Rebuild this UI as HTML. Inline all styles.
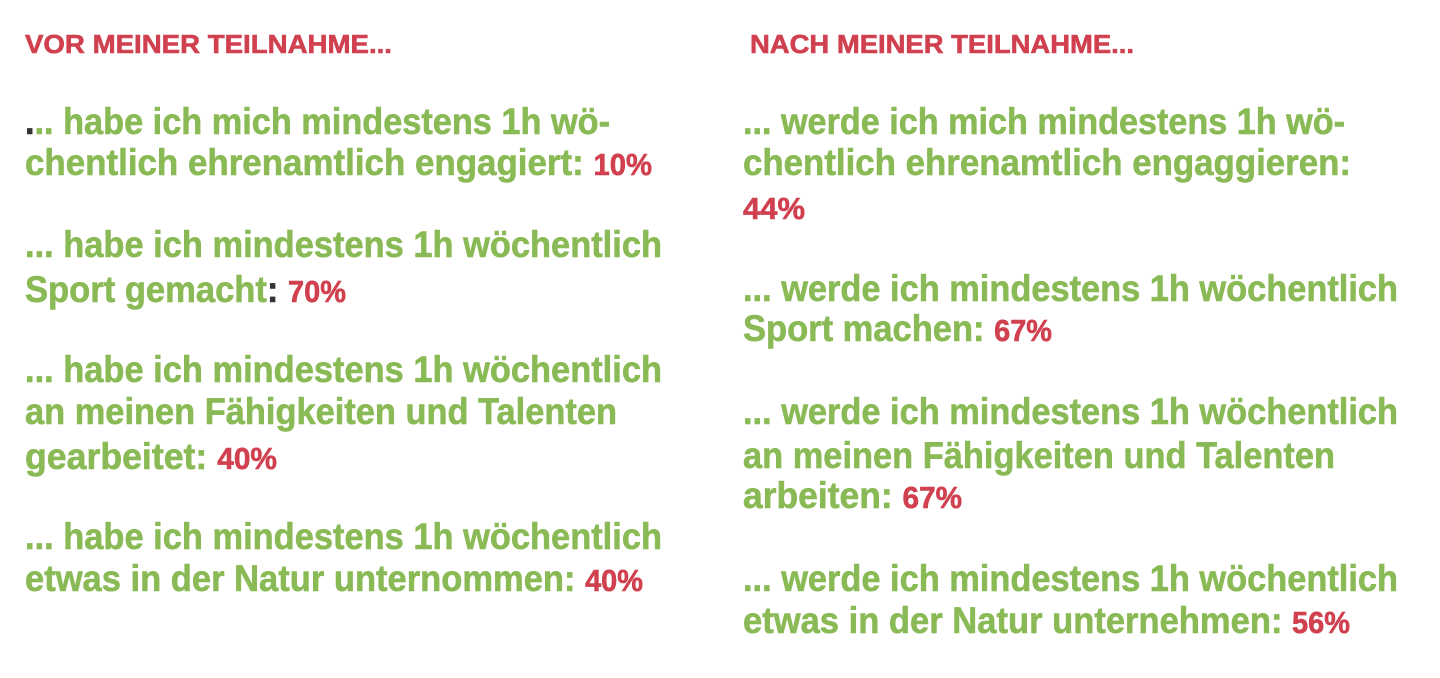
<!DOCTYPE html>
<html><head><meta charset="utf-8"><style>
html,body{margin:0;padding:0;background:#fff;}
svg{display:block}
text{font-family:"Liberation Sans",sans-serif;font-weight:bold;fill:#8aba55;stroke:#8aba55;stroke-width:0.6px;font-size:37px}
.t{fill:#d0404f;stroke:#d0404f;font-size:26px}
.p{fill:#d0404f;stroke:#d0404f;font-size:31px}
.d{fill:#333;stroke:#333}
</style></head><body>
<svg width="1440" height="678" xmlns="http://www.w3.org/2000/svg">
<text class="t" x="25" y="53" textLength="367" lengthAdjust="spacingAndGlyphs">VOR MEINER TEILNAHME...</text>
<text class="t" x="750" y="53" textLength="384" lengthAdjust="spacingAndGlyphs">NACH MEINER TEILNAHME...</text>

<text x="25" y="134" textLength="585" lengthAdjust="spacingAndGlyphs"><tspan class="d">.</tspan>.. habe ich mich mindestens 1h wö-</text>
<text x="25" y="175" textLength="627" lengthAdjust="spacingAndGlyphs">chentlich ehrenamtlich engagiert: <tspan class="p">10%</tspan></text>
<text x="25" y="257" textLength="637" lengthAdjust="spacingAndGlyphs">... habe ich mindestens 1h wöchentlich</text>
<text x="25" y="302" textLength="321" lengthAdjust="spacingAndGlyphs">Sport gemacht<tspan class="d">:</tspan> <tspan class="p">70%</tspan></text>
<text x="25" y="382" textLength="637" lengthAdjust="spacingAndGlyphs">... habe ich mindestens 1h wöchentlich</text>
<text x="25" y="424" textLength="592" lengthAdjust="spacingAndGlyphs">an meinen Fähigkeiten und Talenten</text>
<text x="25" y="469" textLength="252" lengthAdjust="spacingAndGlyphs">gearbeitet: <tspan class="p">40%</tspan></text>
<text x="25" y="549" textLength="637" lengthAdjust="spacingAndGlyphs">... habe ich mindestens 1h wöchentlich</text>
<text x="25" y="591" textLength="618" lengthAdjust="spacingAndGlyphs">etwas in der Natur unternommen: <tspan class="p">40%</tspan></text>

<text x="743" y="134" textLength="602" lengthAdjust="spacingAndGlyphs">... werde ich mich mindestens 1h wö-</text>
<text x="743" y="175" textLength="608" lengthAdjust="spacingAndGlyphs">chentlich ehrenamtlich engaggieren:</text>
<text class="p" x="743" y="219" textLength="62" lengthAdjust="spacingAndGlyphs">44%</text>
<text x="743" y="301" textLength="655" lengthAdjust="spacingAndGlyphs">... werde ich mindestens 1h wöchentlich</text>
<text x="743" y="341" textLength="309" lengthAdjust="spacingAndGlyphs">Sport machen: <tspan class="p">67%</tspan></text>
<text x="743" y="424" textLength="655" lengthAdjust="spacingAndGlyphs">... werde ich mindestens 1h wöchentlich</text>
<text x="743" y="468" textLength="592" lengthAdjust="spacingAndGlyphs">an meinen Fähigkeiten und Talenten</text>
<text x="743" y="508" textLength="219" lengthAdjust="spacingAndGlyphs">arbeiten: <tspan class="p">67%</tspan></text>
<text x="743" y="591" textLength="655" lengthAdjust="spacingAndGlyphs">... werde ich mindestens 1h wöchentlich</text>
<text x="743" y="633" textLength="607" lengthAdjust="spacingAndGlyphs">etwas in der Natur unternehmen: <tspan class="p">56%</tspan></text>
</svg>
</body></html>
